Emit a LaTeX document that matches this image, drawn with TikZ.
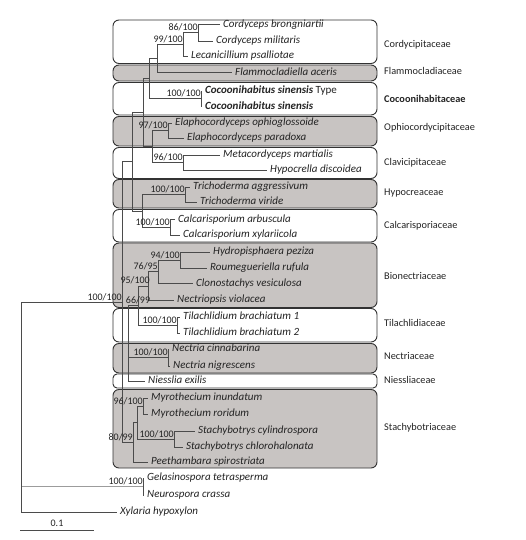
\documentclass[tikz,border=0pt]{standalone}
\usepackage{fontspec}
\setmainfont{Carlito}
\definecolor{treecol}{RGB}{75,75,75}
\definecolor{boxcol}{RGB}{50,50,50}
\definecolor{boxfill}{RGB}{200,196,194}
\definecolor{txtcol}{RGB}{35,35,35}
\begin{document}
\begin{tikzpicture}[x=1pt,y=-1pt,
  tl/.style={draw=treecol, line width=0.6pt},
  leaf/.style={anchor=west, inner xsep=3pt, inner ysep=0pt, text height=7.5pt, text depth=2.2pt,
    font=\fontsize{11}{13}\selectfont\itshape, text=txtcol},
  supp/.style={anchor=base east, inner sep=0pt, font=\fontsize{10}{12}\selectfont, text=txtcol, yshift=2pt},
  fam/.style={anchor=west, inner sep=0pt, text height=7pt, text depth=2pt,
    font=\fontsize{10.3}{12}\selectfont, text=txtcol},
  boxw/.style={draw=boxcol, line width=0.9pt, rounded corners=6pt, fill=white},
  boxg/.style={boxw, fill=boxfill}]
\useasboundingbox (0,0) rectangle (526,540);
% family boxes
\draw[boxw] (113,20) rectangle (377,63.5);
\draw[boxg] (113,65) rectangle (377,81);
\draw[boxw] (113,82.5) rectangle (377,115);
\draw[boxg] (113,116.5) rectangle (377,146);
\draw[boxw] (113,147.5) rectangle (377,178.5);
\draw[boxg] (113,179.5) rectangle (377,208);
\draw[boxw] (113,209.5) rectangle (377,242);
\draw[boxg] (113,243) rectangle (377,307.5);
\draw[boxw] (113,308.5) rectangle (377,342);
\draw[boxg] (113,343.5) rectangle (377,373);
\draw[boxw, rounded corners=4pt] (113,374) rectangle (377,388);
\draw[boxg] (113,389.5) rectangle (377,468);
% family labels
\node[fam] (fCord) at (384,45) {Cordycipitaceae};
\node[fam] (fFlam) at (384,72.5) {Flammocladiaceae};
\node[fam] (fCoco) at (384,100) {\bfseries Cocoonihabitaceae};
\node[fam] (fOphi) at (384,128.5) {Ophiocordycipitaceae};
\node[fam] (fClav) at (384,163) {Clavicipitaceae};
\node[fam] (fHypo) at (384,193) {Hypocreaceae};
\node[fam] (fCalc) at (384,226) {Calcarisporiaceae};
\node[fam] (fBion) at (384,277) {Bionectriaceae};
\node[fam] (fTila) at (384,324) {Tilachlidiaceae};
\node[fam] (fNect) at (384,357) {Nectriaceae};
\node[fam] (fNies) at (384,381) {Niessliaceae};
\node[fam] (fStac) at (384,428) {Stachybotriaceae};
% leaves
\node[leaf] (brong) at (220,24.5) {Cordyceps brongniartii};
\node[leaf] (milit) at (213,41) {Cordyceps militaris};
\node[leaf] (lecan) at (188,56) {Lecanicillium psalliotae};
\node[leaf] (flammo) at (232,72.5) {Flammocladiella aceris};
\node[leaf] (cocoT) at (202,91) {\bfseries Cocoonihabitus sinensis\/\mdseries\upshape\ Type};
\node[leaf] (coco) at (202,106.5) {\bfseries Cocoonihabitus sinensis};
\node[leaf] (elaO) at (172,123) {Elaphocordyceps ophioglossoide};
\node[leaf] (elaP) at (184,138) {Elaphocordyceps paradoxa};
\node[leaf] (meta) at (220,155) {Metacordyceps martialis};
\node[leaf] (hypoc) at (267,170) {Hypocrella discoidea};
\node[leaf] (trA) at (190,187) {Trichoderma aggressivum};
\node[leaf] (trV) at (197,202) {Trichoderma viride};
\node[leaf] (caA) at (175,219.5) {Calcarisporium arbuscula};
\node[leaf] (caX) at (180,235) {Calcarisporium xylariicola};
\node[leaf] (hydro) at (210,252) {Hydropisphaera peziza};
\node[leaf] (roum) at (207,268) {Roumegueriella rufula};
\node[leaf] (clono) at (193,283.5) {Clonostachys vesiculosa};
\node[leaf] (nectV) at (174,300) {Nectriopsis violacea};
\node[leaf] (til1) at (180,317) {Tilachlidium brachiatum 1};
\node[leaf] (til2) at (180,333) {Tilachlidium brachiatum 2};
\node[leaf] (nectC) at (169,349) {Nectria cinnabarina};
\node[leaf] (nectN) at (170,366) {Nectria nigrescens};
\node[leaf] (niess) at (145,381) {Niesslia exilis};
\node[leaf] (myrI) at (148,398) {Myrothecium inundatum};
\node[leaf] (myrR) at (148,414) {Myrothecium roridum};
\node[leaf] (stC) at (195,431) {Stachybotrys cylindrospora};
\node[leaf] (stCh) at (183,447) {Stachybotrys chlorohalonata};
\node[leaf] (peeth) at (148,462) {Peethambara spirostriata};
\node[leaf] (gelas) at (144,478) {Gelasinospora tetrasperma};
\node[leaf] (neuro) at (144,495) {Neurospora crassa};
\node[leaf] (xyl) at (117,512) {Xylaria hypoxylon};
% internal nodes
\coordinate (n86) at (198,32.75);
\coordinate (n99) at (183,44.4);
\coordinate (nF) at (157,58.5);
\coordinate (nCoco) at (201,98.75);
\coordinate (nCFC) at (149,78.6);
\coordinate (n97) at (168,130.5);
\coordinate (n96) at (183,162.5);
\coordinate (nOC) at (152,146.5);
\coordinate (nTop1) at (143,112.5);
\coordinate (nTri) at (185,194.5);
\coordinate (nCal) at (170,227.25);
\coordinate (nTC) at (142,210.9);
\coordinate (nTop2) at (132,161.7);
\coordinate (n94) at (180,260);
\coordinate (n76) at (158,271.75);
\coordinate (n95) at (148,285.9);
\coordinate (nTil) at (177,325);
\coordinate (n66) at (138,305.4);
\coordinate (nMid) at (128,343);
\coordinate (nNec) at (168,357.5);
\coordinate (nMy) at (143,406);
\coordinate (nSt) at (174,439);
\coordinate (nMS) at (137,422.5);
\coordinate (n80) at (133,442.2);
\coordinate (nMain) at (122,302);
\coordinate (nGN) at (143,486.5);
\coordinate (root) at (21,302);
% branches
\draw[tl] (n86) |- (brong.west);
\draw[tl] (n86) |- (milit.west);
\draw[tl] (n99) |- (n86);
\draw[tl] (n99) |- (lecan.west);
\draw[tl] (nF) |- (n99);
\draw[tl] (nF) |- (flammo.west);
\draw[tl] (nCoco) |- (cocoT.west);
\draw[tl] (nCoco) |- (coco.west);
\draw[tl] (nCFC) |- (nF);
\draw[tl] (nCFC) |- (nCoco);
\draw[tl] (n97) |- (elaO.west);
\draw[tl] (n97) |- (elaP.west);
\draw[tl] (n96) |- (meta.west);
\draw[tl] (n96) |- (hypoc.west);
\draw[tl] (nOC) |- (n97);
\draw[tl] (nOC) |- (n96);
\draw[tl] (nTop1) |- (nCFC);
\draw[tl] (nTop1) |- (nOC);
\draw[tl] (nTri) |- (trA.west);
\draw[tl] (nTri) |- (trV.west);
\draw[tl] (nCal) |- (caA.west);
\draw[tl] (nCal) |- (caX.west);
\draw[tl] (nTC) |- (nTri);
\draw[tl] (nTC) |- (nCal);
\draw[tl] (nTop2) |- (nTop1);
\draw[tl] (nTop2) |- (nTC);
\draw[tl] (n94) |- (hydro.west);
\draw[tl] (n94) |- (roum.west);
\draw[tl] (n76) |- (n94);
\draw[tl] (n76) |- (clono.west);
\draw[tl] (n95) |- (n76);
\draw[tl] (n95) |- (nectV.west);
\draw[tl] (nTil) |- (til1.west);
\draw[tl] (nTil) |- (til2.west);
\draw[tl] (n66) |- (n95);
\draw[tl] (n66) |- (nTil);
\draw[tl] (nNec) |- (nectC.west);
\draw[tl] (nNec) |- (nectN.west);
\draw[tl] (nMid) |- (n66);
\draw[tl] (nMid) |- (nNec);
\draw[tl] (nMid) |- (niess.west);
\draw[tl] (nMy) |- (myrI.west);
\draw[tl] (nMy) |- (myrR.west);
\draw[tl] (nSt) |- (stC.west);
\draw[tl] (nSt) |- (stCh.west);
\draw[tl] (nMS) |- (nMy);
\draw[tl] (nMS) |- (nSt);
\draw[tl] (n80) |- (nMS);
\draw[tl] (n80) |- (peeth.west);
\draw[tl] (nMain) |- (nTop2);
\draw[tl] (nMain) |- (nMid);
\draw[tl] (nMain) |- (n80);
\draw[tl] (nGN) |- (gelas.west);
\draw[tl] (nGN) |- (neuro.west);
\draw[tl] (root) -- (nMain);
\draw[tl, draw=treecol!55] (root) |- (nGN);
\draw[tl] (root) |- (xyl.west);
% support values
\node[supp] (s86) at (n86) {86/100};
\node[supp] (s99) at (n99) {99/100};
\node[supp] (sCoco) at (nCoco) {100/100};
\node[supp] (s97) at (n97) {97/100};
\node[supp] (s96) at (n96) {96/100};
\node[supp] (sTri) at (nTri) {100/100};
\node[supp] (sCal) at (nCal) {100/100};
\node[supp] (s94) at (n94) {94/100};
\node[supp] (s76) at (n76) {76/95};
\node[supp] (s95) at ([xshift=2pt]n95) {95/100};
\node[supp, anchor=base] (s66) at (138,305.5) {66/99};
\node[supp] (sTil) at (nTil) {100/100};
\node[supp] (sNec) at (nNec) {100/100};
\node[supp] (sMy) at (nMy) {96/100};
\node[supp] (sSt) at (nSt) {100/100};
\node[supp] (s80) at (n80) {80/99};
\node[supp] (sMain) at (nMain) {100/100};
\node[supp] (sGN) at (nGN) {100/100};
% scale bar
\coordinate (sb1) at (20,530);
\coordinate (sb2) at (94,530);
\draw[tl] (sb1) -- (sb2);
\node[font=\fontsize{10}{12}\selectfont, text=txtcol, inner sep=0pt] (sbl) at (57,523.5) {0.1};
\end{tikzpicture}
\end{document}
